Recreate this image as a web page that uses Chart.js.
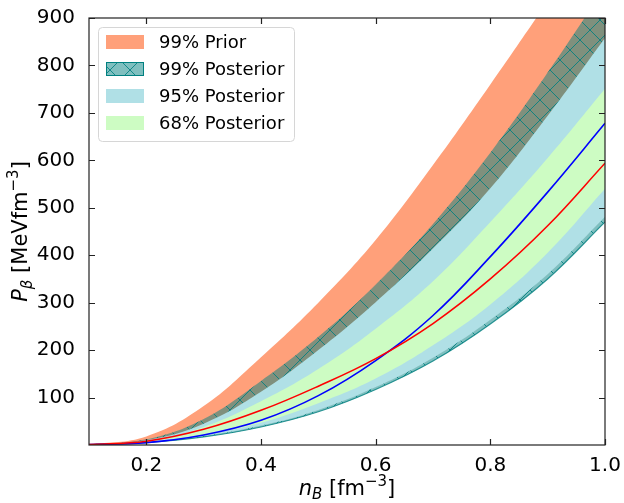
<!DOCTYPE html>
<html>
<head>
<meta charset="utf-8">
<script src="https://cdn.jsdelivr.net/npm/chart.js@4.4.1/dist/chart.umd.min.js"></script>
<style>
  html, body { margin: 0; padding: 0; background: #fff; }
  #wrap { width: 624px; height: 503px; }
</style>
</head>
<body>
<div id="wrap"><canvas id="pressureChart" width="624" height="503"></canvas></div>
<script>
// baryon density grid (fm^-3)
const nB = [0.1, 0.2, 0.3, 0.4, 0.5, 0.6, 0.7, 0.8, 0.9, 1.0];

// bands (MeV fm^-3)
const priorHigh  = [1, 18, 82, 185, 300, 432, 590, 760, 935, 1110];
const priorLow   = [1, 7, 22, 47, 88, 140, 210, 296, 405, 540];
const post99High = [1, 12, 55, 135, 228, 338, 466, 616, 785, 965];
const post99Low  = [1, 5, 17, 38, 70, 117, 177, 255, 350, 470];
const post95High = [1, 10, 45, 112, 200, 301, 414, 541, 694, 858];
const post95Low  = [1, 6, 19, 41, 74, 122, 184, 264, 360, 481];
const post68High = [1, 8, 38, 92, 160, 245, 345, 470, 605, 751];
const post68Low  = [1, 7, 22, 47, 88, 140, 210, 296, 405, 540];

// the two curves
const blueCurve = [1, 5, 21, 52, 104, 178, 273, 397, 533, 678];
const redCurve  = [1, 8, 33, 73, 124, 182, 256, 350, 462, 594];

const xTicks = [0.2, 0.4, 0.6, 0.8, 1.0];
const yTicks = [100, 200, 300, 400, 500, 600, 700, 800, 900];
const legendLabels = ['99% Prior', '99% Posterior', '95% Posterior', '68% Posterior'];

const FONT = "'DejaVu Sans', sans-serif";
const salmon = 'rgb(255,160,122)';
const powder = 'rgb(176,224,230)';
const mint = 'rgb(205,252,195)';
const teal = 'rgb(0,128,128)';

function pts(arr) {
  return arr.map((v, i) => ({ x: nB[i], y: v }));
}

// cross hatch pattern like matplotlib 'x'
function makeHatch(ctx) {
  const s = 20;
  const c = document.createElement('canvas');
  c.width = s; c.height = s;
  const g = c.getContext('2d');
  g.fillStyle = 'rgba(0,128,128,0.5)';
  g.fillRect(0, 0, s, s);
  g.strokeStyle = 'rgba(0,128,128,0.85)';
  g.lineWidth = 1;
  g.beginPath();
  g.moveTo(0, 0); g.lineTo(s, s);
  g.moveTo(0, s); g.lineTo(s, 0);
  g.stroke();
  return ctx.createPattern(c, 'repeat');
}

const ctx = document.getElementById('pressureChart').getContext('2d');
const hatch = makeHatch(ctx);

function band(data, order, extra) {
  return Object.assign({
    data: pts(data),
    order: order,
    pointRadius: 0,
    borderWidth: 0,
    tension: 0.4,
    fill: false
  }, extra || {});
}

const datasets = [
  band(priorLow, 20),
  band(priorHigh, 19, { fill: { target: 0 }, backgroundColor: salmon }),
  band(post99Low, 18, { borderWidth: 1.2, borderColor: 'rgba(0,128,128,0.8)' }),
  band(post99High, 17, { fill: { target: 2 }, backgroundColor: hatch }),
  band(post95Low, 16),
  band(post95High, 15, { fill: { target: 4 }, backgroundColor: powder }),
  band(post68Low, 14),
  band(post68High, 13, { fill: { target: 6 }, backgroundColor: mint }),
  band(blueCurve, 2, { borderWidth: 1.6, borderColor: '#0000ff' }),
  band(redCurve, 1, { borderWidth: 1.6, borderColor: '#ff0000' })
];

// draw rich text centred on x (parts: text, size, italic, dy)
function drawRich(c, parts, x, y) {
  let total = 0;
  parts.forEach(p => {
    c.font = (p.italic ? 'italic ' : '') + p.size + 'px ' + FONT;
    p.w = c.measureText(p.t).width;
    total += p.w;
  });
  let cx = x - total / 2;
  c.textBaseline = 'alphabetic';
  c.textAlign = 'left';
  parts.forEach(p => {
    c.font = (p.italic ? 'italic ' : '') + p.size + 'px ' + FONT;
    c.fillText(p.t, cx, y + (p.dy || 0));
    cx += p.w;
  });
}

const decor = {
  id: 'decor',
  afterDraw(chart) {
    const c = chart.ctx;
    const a = chart.chartArea;
    const xs = chart.scales.x, ys = chart.scales.y;
    c.save();
    // frame
    c.strokeStyle = '#222';
    c.lineWidth = 1.2;
    c.strokeRect(a.left, a.top, a.right - a.left, a.bottom - a.top);
    // inward ticks on all sides
    c.beginPath();
    xTicks.forEach(v => {
      const px = Math.round(xs.getPixelForValue(v)) + 0.5;
      c.moveTo(px, a.bottom); c.lineTo(px, a.bottom - 6);
      c.moveTo(px, a.top); c.lineTo(px, a.top + 6);
    });
    yTicks.forEach(v => {
      const py = Math.round(ys.getPixelForValue(v)) + 0.5;
      c.moveTo(a.left, py); c.lineTo(a.left + 6, py);
      c.moveTo(a.right, py); c.lineTo(a.right - 6, py);
    });
    c.stroke();

    // axis titles
    c.fillStyle = '#000';
    drawRich(c, [
      { t: 'n', size: 21, italic: true },
      { t: 'B', size: 15, italic: true, dy: 4 },
      { t: ' [fm', size: 21 },
      { t: '\u22123', size: 15, dy: -9 },
      { t: ']', size: 21 }
    ], (a.left + a.right) / 2, 495);
    c.save();
    c.translate(27, (a.top + a.bottom) / 2);
    c.rotate(-Math.PI / 2);
    drawRich(c, [
      { t: 'P', size: 21, italic: true },
      { t: '\u03b2', size: 15, italic: true, dy: 5 },
      { t: ' [MeVfm', size: 21 },
      { t: '\u22123', size: 15, dy: -9 },
      { t: ']', size: 21 }
    ], 0, 0);
    c.restore();

    // legend box
    const lx = a.left + 9, ly = a.top + 9, lw = 196, lh = 114;
    c.beginPath();
    c.roundRect(lx + 0.5, ly + 0.5, lw, lh, 4);
    c.fillStyle = 'rgba(255,255,255,0.85)';
    c.fill();
    c.strokeStyle = '#d6d6d6';
    c.lineWidth = 1;
    c.stroke();
    const fills = [salmon, hatch, powder, mint];
    c.font = '18px ' + FONT;
    c.textBaseline = 'middle';
    legendLabels.forEach((lab, i) => {
      const cy = ly + 15 + i * 27;
      const px = lx + 8;
      c.fillStyle = fills[i];
      c.fillRect(px, cy - 7, 38, 14);
      if (i === 1) {
        c.strokeStyle = teal;
        c.lineWidth = 1;
        c.strokeRect(px + 0.5, cy - 6.5, 37, 13);
      }
      c.fillStyle = '#000';
      c.fillText(lab, lx + 61, cy + 1);
    });
    c.restore();
  }
};

const pressureChart = new Chart(ctx, {
  type: 'line',
  data: { datasets: datasets },
  options: {
    responsive: false,
    animation: false,
    layout: { padding: { top: 15, right: 19, left: 0, bottom: 0 } },
    plugins: {
      legend: { display: false },
      tooltip: { enabled: false },
      filler: { propagate: false }
    },
    scales: {
      x: {
        type: 'linear',
        min: 0.1, max: 1.0,
        grid: { display: false },
        border: { display: false },
        afterBuildTicks: s => { s.ticks = xTicks.map(v => ({ value: v })); },
        afterFit: s => { s.height = 58; },
        ticks: {
          color: '#000', padding: 1, maxRotation: 0,
          font: { family: FONT, size: 20 },
          callback: v => v.toFixed(1)
        }
      },
      y: {
        type: 'linear',
        min: 0, max: 900,
        grid: { display: false },
        border: { display: false },
        afterBuildTicks: s => { s.ticks = yTicks.map(v => ({ value: v })); },
        afterFit: s => { s.width = 89; },
        ticks: {
          color: '#000', padding: 6,
          font: { family: FONT, size: 20 }
        }
      }
    }
  },
  plugins: [decor]
});
</script>
</body>
</html>
